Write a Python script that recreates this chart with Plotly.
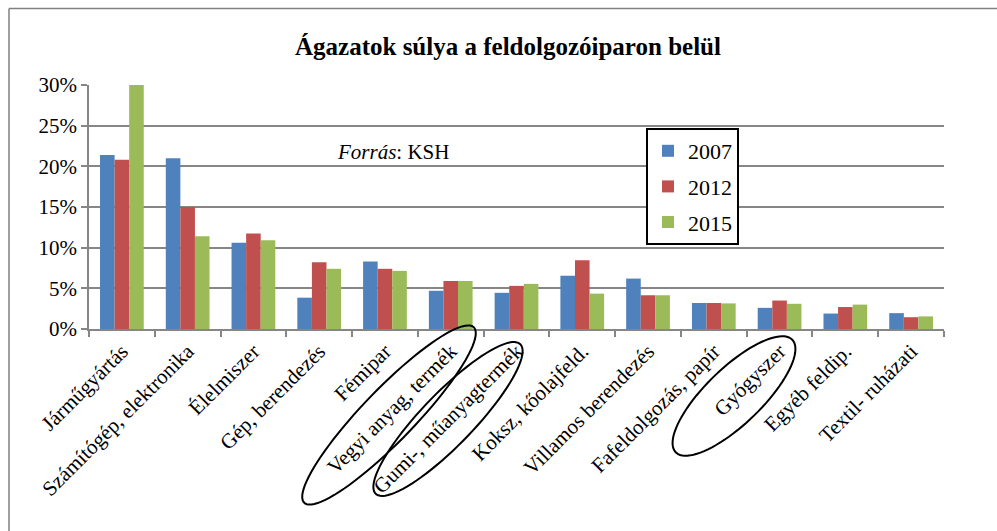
import numpy as np
import plotly.graph_objects as go

categories = ["Járműgyártás", "Számítógép, elektronika", "Élelmiszer", "Gép, berendezés",
              "Fémipar", "Vegyi anyag, termék", "Gumi-, műanyagtermék", "Koksz, kőolajfeld.",
              "Villamos berendezés", "Fafeldolgozás, papír", "Gyógyszer", "Egyéb feldip.",
              "Textil- ruházati"]
v2007 = [21.4, 21.0, 10.6, 3.85, 8.3, 4.7, 4.45, 6.55, 6.2, 3.2, 2.6, 1.9, 1.95]
v2012 = [20.8, 15.0, 11.75, 8.2, 7.4, 5.9, 5.3, 8.45, 4.15, 3.2, 3.5, 2.7, 1.45]
v2015 = [30.0, 11.4, 10.9, 7.4, 7.15, 5.9, 5.55, 4.35, 4.15, 3.15, 3.1, 3.0, 1.55]
series = [("2007", v2007, "#4F81BD"), ("2012", v2012, "#C0504D"), ("2015", v2015, "#9BBB59")]
y_ticks = [0, 0.05, 0.10, 0.15, 0.20, 0.25, 0.30]

W, H = 997, 531
ML, MR, MT, MB = 89, 53, 85, 202
PW, PH = W - ML - MR, H - MT - MB

def px2paper(px, py):
    return (px - ML) / PW, (H - MB - py) / PH

def ellipse_path(cx, cy, a, b, ang):
    t = np.linspace(0, 2 * np.pi, 90)
    th = np.radians(ang)
    ux, uy = np.cos(th), -np.sin(th)
    vx, vy = np.sin(th), np.cos(th)
    xs = cx + a * np.cos(t) * ux + b * np.sin(t) * vx
    ys = cy + a * np.cos(t) * uy + b * np.sin(t) * vy
    pts = [px2paper(x, y) for x, y in zip(xs, ys)]
    return "M " + " L ".join(f"{x:.5f},{y:.5f}" for x, y in pts) + " Z"

fig = go.Figure()
for name, vals, col in series:
    fig.add_trace(go.Bar(x=categories, y=[v / 100 for v in vals], name=name,
                         marker=dict(color=col, line=dict(width=0)), legendgroup=name))

font = "Liberation Serif"
shapes = []
bx0, by0 = px2paper(9, 8.5)
bx1, _ = px2paper(997, 8.5)
_, by1 = px2paper(9, 531)
shapes.append(dict(type="line", xref="paper", yref="paper", x0=bx0, y0=by0, x1=bx1, y1=by0,
                   line=dict(color="#808080", width=1.5), layer="below"))
shapes.append(dict(type="line", xref="paper", yref="paper", x0=bx0, y0=by0, x1=bx0, y1=by1,
                   line=dict(color="#808080", width=1.5), layer="below"))
for cx, cy, a, b, ang in [(389, 415, 122, 26, 46), (448, 419, 104, 26, 46), (734, 396, 81, 28, 44)]:
    shapes.append(dict(type="path", xref="paper", yref="paper", path=ellipse_path(cx, cy, a, b, ang),
                       line=dict(color="black", width=2)))

lx, ly = px2paper(646, 128)
ax, ay = px2paper(335, 152)
tx, ty = px2paper(508, 46)

fig.update_layout(
    width=W, height=H,
    margin=dict(l=ML, r=MR, t=MT, b=MB),
    paper_bgcolor="white", plot_bgcolor="white",
    font=dict(family=font, size=21, color="black"),
    barmode="group", bargap=0.335, bargroupgap=0,
    showlegend=True,
    legend=dict(x=lx, y=ly, xanchor="left", yanchor="top", bordercolor="black", borderwidth=2,
                bgcolor="white", font=dict(family=font, size=22, color="black"),
                traceorder="grouped", tracegroupgap=4),
    shapes=shapes,
    annotations=[
        dict(text="<i>Forrás</i>: KSH", x=ax, y=ay, xref="paper", yref="paper",
             xanchor="left", yanchor="middle", showarrow=False,
             font=dict(family=font, size=21, color="black")),
        dict(text="<b>Ágazatok súlya a feldolgozóiparon belül</b>", x=tx, y=ty, xref="paper",
             yref="paper", xanchor="center", yanchor="middle", showarrow=False,
             font=dict(family=font, size=25, color="black")),
    ],
    xaxis=dict(tickangle=-45, showgrid=False, showline=True, linecolor="#868686", linewidth=1.5,
               ticks="outside", ticklen=6, tickcolor="#868686", tickwidth=1.5, tickson="boundaries",
               tickfont=dict(family=font, size=21, color="black")),
    yaxis=dict(range=[0, 0.30], tickvals=y_ticks, tickformat=".0%", showgrid=True,
               gridcolor="#868686", gridwidth=1.5, showline=True, linecolor="#868686", linewidth=1.5,
               ticks="outside", ticklen=6, tickcolor="#868686", tickwidth=1.5, zeroline=False,
               tickfont=dict(family=font, size=21, color="black")),
)
fig.write_html("out.html", config={"displayModeBar": False},
               post_script="document.documentElement.style.overflow='hidden';document.body.style.margin='0';document.body.style.overflow='hidden';")
